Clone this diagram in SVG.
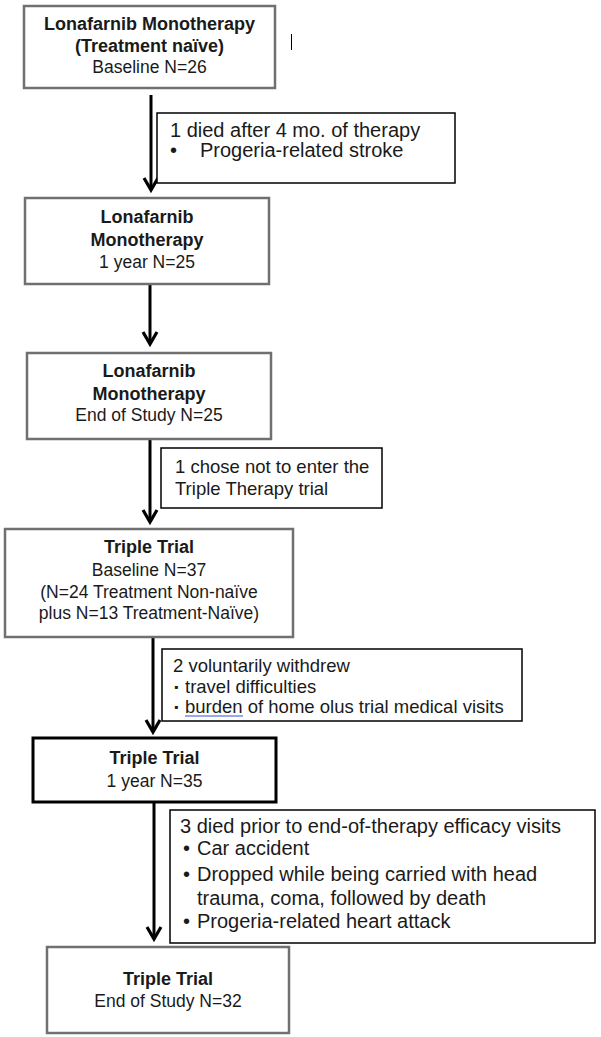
<svg xmlns="http://www.w3.org/2000/svg" width="601" height="1037" viewBox="0 0 601 1037">
<style>
.box{fill:#fff;stroke:#707070;stroke-width:2.5}
.box-strong{fill:#fff;stroke:#000;stroke-width:3}
.note{fill:#fff;stroke:#000;stroke-width:1.5}
.t{font-family:"Liberation Sans",Arial,sans-serif;fill:#1a1a1a}
.c{text-anchor:middle;font-size:17.5px}
.b{font-weight:bold;font-size:18px}
.n20{font-size:20px}
.n18{font-size:18.5px}
.conn{stroke:#000;stroke-width:3;fill:none;marker-end:url(#ah)}
</style>
<defs>
<marker id="ah" markerUnits="userSpaceOnUse" viewBox="-16 -10 20 20" refX="0" refY="0" markerWidth="20" markerHeight="20" orient="auto" overflow="visible">
<path d="M -12 -7 L 0 0 L -12 7" fill="none" stroke="#000" stroke-width="3.2"/>
</marker>
</defs>
<rect width="601" height="1037" fill="#fff"/>

<g id="connectors">
<line class="conn" x1="151" y1="95" x2="151" y2="190"/>
<line class="conn" x1="150" y1="284" x2="150" y2="344"/>
<line class="conn" x1="150" y1="439" x2="150" y2="522"/>
<line class="conn" x1="153" y1="637" x2="153" y2="732"/>
<line class="conn" x1="154" y1="802" x2="154" y2="939"/>
</g>

<line x1="291.5" y1="34" x2="291.5" y2="50" stroke="#000" stroke-width="1"/>

<g id="node-mono-baseline">
<rect class="box" x="24" y="6" width="251" height="82"/>
<text class="t c b" x="149.5" y="30">Lonafarnib Monotherapy</text>
<text class="t c b" x="149.5" y="52">(Treatment naïve)</text>
<text class="t c" x="149.5" y="73">Baseline N=26</text>
</g>

<g id="note-died-stroke">
<rect class="note" x="157" y="113" width="298" height="70"/>
<text class="t n20" x="170" y="137">1 died after 4 mo. of therapy</text>
<text class="t n20" x="170" y="157">•</text>
<text class="t n20" x="200" y="157">Progeria-related stroke</text>
</g>

<g id="node-mono-1yr">
<rect class="box" x="25" y="198" width="244" height="86"/>
<text class="t c b" x="147" y="223">Lonafarnib</text>
<text class="t c b" x="147" y="246">Monotherapy</text>
<text class="t c" x="147" y="268">1 year N=25</text>
</g>

<g id="node-mono-end">
<rect class="box" x="27" y="353" width="244" height="86"/>
<text class="t c b" x="149" y="377">Lonafarnib</text>
<text class="t c b" x="149" y="400">Monotherapy</text>
<text class="t c" x="149" y="421">End of Study N=25</text>
</g>

<g id="note-chose-not">
<rect class="note" x="161" y="448" width="221" height="60"/>
<text class="t n18" x="175" y="473">1 chose not to enter the</text>
<text class="t n18" x="175" y="495">Triple Therapy trial</text>
</g>

<g id="node-triple-baseline">
<rect class="box" x="5" y="529" width="288" height="108"/>
<text class="t c b" x="149" y="553">Triple Trial</text>
<text class="t c" x="149" y="576">Baseline N=37</text>
<text class="t c" x="149" y="598">(N=24 Treatment Non-naïve</text>
<text class="t c" x="149" y="619">plus N=13 Treatment-Naïve)</text>
</g>

<g id="note-withdrew">
<rect class="note" x="162" y="649" width="360" height="72"/>
<text class="t n18" x="173" y="672">2 voluntarily withdrew</text>
<text class="t" font-size="12" x="174" y="691">▪</text>
<text class="t n18" x="185" y="693">travel difficulties</text>
<text class="t" font-size="12" x="174" y="711">▪</text>
<text class="t n18" x="185" y="713">burden of home olus trial medical visits</text>
<line x1="185" y1="716" x2="243" y2="716" stroke="#3050e0" stroke-width="1"/>
</g>

<g id="node-triple-1yr">
<rect class="box-strong" x="33" y="738" width="243" height="64"/>
<text class="t c b" x="154.5" y="764">Triple Trial</text>
<text class="t c" x="154.5" y="787">1 year N=35</text>
</g>

<g id="note-died-three">
<rect class="note" x="170" y="810" width="425" height="133"/>
<text class="t n20" x="180" y="833">3 died prior to end-of-therapy efficacy visits</text>
<text class="t n20" x="183" y="855">•</text>
<text class="t n20" x="197" y="855">Car accident</text>
<text class="t n20" x="183" y="881">•</text>
<text class="t n20" x="197" y="881">Dropped while being carried with head</text>
<text class="t n20" x="197" y="905">trauma, coma, followed by death</text>
<text class="t n20" x="183" y="928">•</text>
<text class="t n20" x="197" y="928">Progeria-related heart attack</text>
</g>

<g id="node-triple-end">
<rect class="box" x="47" y="947" width="242" height="86"/>
<text class="t c b" x="168" y="985">Triple Trial</text>
<text class="t c" x="168" y="1007">End of Study N=32</text>
</g>
</svg>
